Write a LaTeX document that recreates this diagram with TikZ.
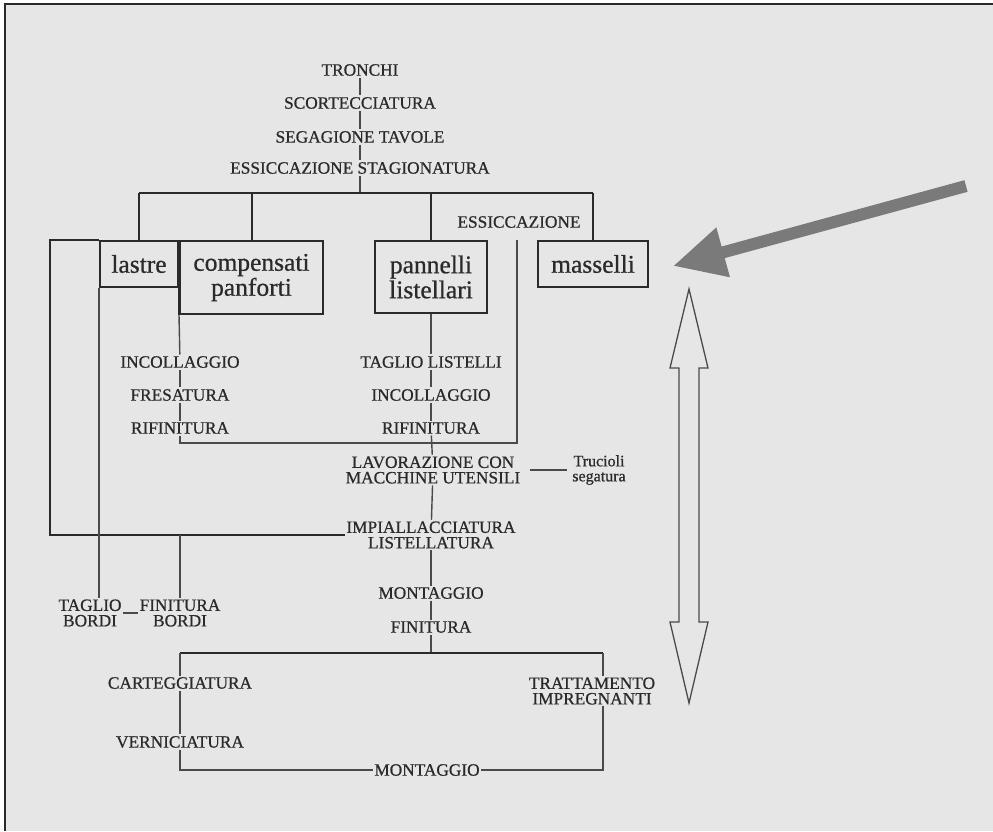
\documentclass[tikz,border=0pt]{standalone}
\usepackage{fontspec}
\setmainfont{Liberation Serif}
\newfontfamily\labfont{Liberation Serif}[AutoFakeBold=0.7]
\usetikzlibrary{arrows.meta}
\definecolor{bg}{HTML}{E6E6E6}
\definecolor{ink}{HTML}{2A2A2A}
\definecolor{ln}{HTML}{4A4A4A}
\definecolor{arrowgray}{HTML}{7A7A7A}
\begin{document}
\begin{tikzpicture}[x=1pt,y=-1pt,
  lab/.style={font=\labfont\bfseries\fontsize{17.3}{15.5}\selectfont, text=ink, align=center, inner sep=1.5pt},
  smlab/.style={font=\labfont\bfseries\fontsize{16}{15}\selectfont, text=ink, align=center, inner sep=1.5pt},
  boxlab/.style={draw=ink, line width=2pt, font=\labfont\bfseries\fontsize{25.5}{25}\selectfont, text=ink, align=center, inner sep=0pt},
  thinln/.style={draw=ln, line width=1.4pt},
  medln/.style={draw=ink, line width=2pt},
  thickln/.style={draw=ink, line width=2.6pt}]
\useasboundingbox (0,0) rectangle (993,831);
\fill[white] (0,0) rectangle (993,831);
\fill[bg] (5,4) rectangle (993,831);
\draw[ink, line width=2pt] (5,831) -- (5,4) -- (993,4);

% boxes
\node[boxlab, minimum width=78pt, minimum height=46pt] (lastre) at (139,264) {lastre};
\node[boxlab, minimum width=143pt, minimum height=73pt] (comp) at (251.5,277.5) {compensati\\panforti};
\node[boxlab, minimum width=112pt, minimum height=72pt] (pann) at (431,277) {pannelli\\listellari};
\node[boxlab, minimum width=110pt, minimum height=46pt] (mass) at (593,264) {masselli};

% labels
\node[lab] (tronchi) at (360,70) {TRONCHI};
\node[lab] (scort) at (360,103) {SCORTECCIATURA};
\node[lab] (segag) at (360,137) {SEGAGIONE TAVOLE};
\node[lab] (essic) at (360,168) {ESSICCAZIONE STAGIONATURA};
\node[lab] (ess2) at (519,222) {ESSICCAZIONE};
\node[lab] (incoll1) at (180,362) {INCOLLAGGIO};
\node[lab] (fres) at (180,395) {FRESATURA};
\node[lab] (rifin1) at (180,428) {RIFINITURA};
\node[lab] (taglio) at (431,362) {TAGLIO LISTELLI};
\node[lab] (incoll2) at (431,395) {INCOLLAGGIO};
\node[lab] (rifin2) at (431,428) {RIFINITURA};
\node[lab] (lavor) at (433,470) {LAVORAZIONE CON\\MACCHINE UTENSILI};
\node[smlab] (truc) at (599,470) {Trucioli\\segatura};
\node[lab] (impial) at (431,535) {IMPIALLACCIATURA\\LISTELLATURA};
\node[lab] (montag) at (431,593) {MONTAGGIO};
\node[lab] (finit) at (431,627) {FINITURA};
\node[lab] (tbordi) at (90,613) {TAGLIO\\BORDI};
\node[lab] (fbordi) at (180,613) {FINITURA\\BORDI};
\node[lab] (cart) at (180,683) {CARTEGGIATURA};
\node[lab] (vern) at (180,742) {VERNICIATURA};
\node[lab] (montag2) at (427,770) {MONTAGGIO};
\node[lab] (tratt) at (592,691) {TRATTAMENTO\\IMPREGNANTI};

% coordinates
\coordinate (bj) at (360,193);
\coordinate (bl) at (139,193);
\coordinate (br) at (593,193);
\coordinate (ob) at (50,535);
\coordinate (cj) at (180,443);
\coordinate (ej) at (517,443);
\coordinate (fl) at (180,653);
\coordinate (fr) at (603,653);

% top stem
\draw[thinln] (tronchi) -- (scort);
\draw[thinln] (scort) -- (segag);
\draw[thinln] (segag) -- (essic);
\draw[thinln] (essic) -- (bj);
\draw[medln] (bl) -- (br);
\draw[medln] (bl) -- (lastre);
\draw[medln] (comp.north |- bl) -- (comp.north);
\draw[medln] (pann.north |- bl) -- (pann.north);
\draw[medln] (br) -- (mass);

% outer bracket
\draw[thickln] (lastre.north west) -- (lastre.north west -| ob) -- (ob) -- (impial.west);
\draw[thinln] (lastre.south west) -- (lastre.west |- tbordi.north);
\draw[thickln] (comp.north west) -- (comp.south west);
\draw[thinln] (comp.south west) -- (incoll1);
\draw[thinln] (incoll1) -- (fres);
\draw[thinln] (fres) -- (rifin1);
\draw[thinln] (rifin1) -- (cj) -- (ej) -- ([yshift=-10pt]ess2.south -| ej);

% middle column
\draw[thinln] (pann) -- (taglio);
\draw[thinln] (taglio) -- (incoll2);
\draw[thinln] (incoll2) -- (rifin2);
\draw[thinln] (rifin2) -- (lavor);
\draw[thinln] (lavor) -- (impial);
\draw[thinln] (impial) -- (montag);
\draw[thinln] (montag) -- (finit);
\draw[thinln] (finit) -- (finit |- fl);
\draw[thinln, shorten <=8pt, shorten >=4pt] (lavor.east) -- (truc.west);

% bordi
\draw[thinln] (fbordi.north |- ob) -- (fbordi.north);
\draw[thinln] (tbordi.east) -- (fbordi.west);

% bottom
\draw[thickln] (fl) -- (fr);
\draw[thinln] (fl) -- (cart);
\draw[thinln] (cart) -- (vern);
\draw[thinln] (vern) -- (vern |- montag2) -- (montag2);
\draw[thinln] (montag2) -- (montag2 -| fr) -- (tratt.south -| fr);
\draw[thinln] (fr) -- (tratt.north -| fr);

% big arrow
\coordinate (atail) at (966,186);
\coordinate (atip) at (673,266);
\draw[arrowgray, line width=12pt, -{Triangle[length=52pt,width=48pt]}] (atail) -- (atip);

% double arrow
\draw[ln, line width=1.3pt, fill=bg]
  (689,289) -- (708,368) -- (699,368) -- (699,622) -- (708,622) -- (689,703)
  -- (670,622) -- (679,622) -- (679,368) -- (670,368) -- cycle;
\end{tikzpicture}
\end{document}
